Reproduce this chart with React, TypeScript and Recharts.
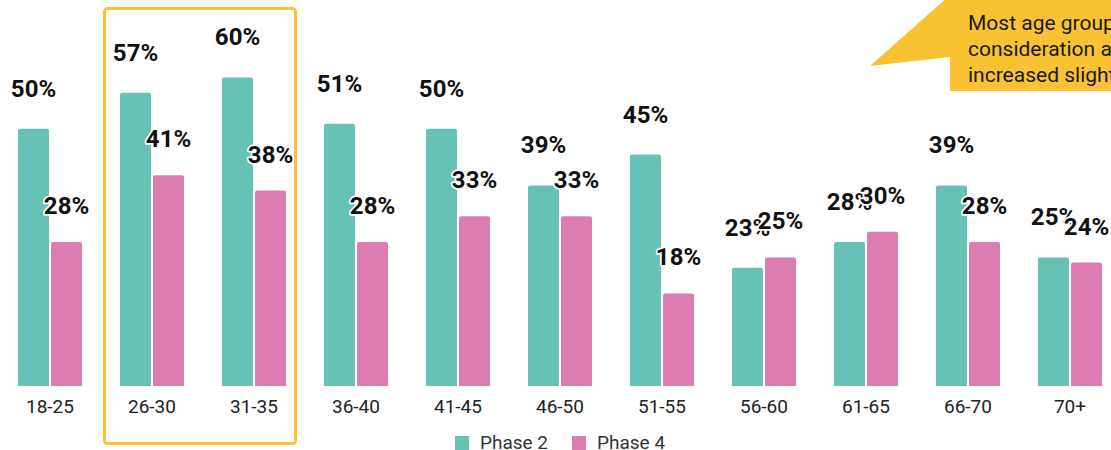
import React from "react";
import { BarChart, Bar, XAxis, YAxis, Legend, LabelList } from "recharts";

// Age groups on the category axis
const ageGroups = ["18-25", "26-30", "31-35", "36-40", "41-45", "46-50", "51-55", "56-60", "61-65", "66-70", "70+"];
// Share (%) per age group in each survey phase
const phase2 = [50, 57, 60, 51, 50, 39, 45, 23, 28, 39, 25];
const phase4 = [28, 41, 38, 28, 33, 33, 18, 25, 30, 28, 24];

const seriesNames = ["Phase 2", "Phase 4"];
const seriesColors = ["#66C2B5", "#DC7CB1"];

const calloutLines = ["Most age groups'", "consideration and", "increased slightly"];

const data = ageGroups.map((age, i) => ({ age, p2: phase2[i], p4: phase4[i] }));

const FONT = "Roboto, 'Noto Sans', Arial, sans-serif";

const makeValueLabel = (lift: number) => (props: any) => {
  const { x, y, width, value } = props;
  return (
    <text
      x={Number(x) + Number(width) / 2}
      y={Number(y) - lift}
      textAnchor="middle"
      fontFamily={FONT}
      fontSize={24}
      fontWeight={700}
      fill="#111"
      stroke="#fff"
      strokeWidth={3.5}
      strokeLinejoin="round"
      style={{ paintOrder: "stroke" }}
    >
      {`${value}%`}
    </text>
  );
};

const LegendContent = () => (
  <div
    style={{
      display: "flex",
      justifyContent: "center",
      alignItems: "center",
      height: 18,
      fontFamily: FONT,
      fontSize: 19,
      lineHeight: "16px",
      color: "#333",
      whiteSpace: "nowrap",
      transform: "translateY(2px)",
    }}
  >
    {seriesNames.map((name, i) => (
      <div key={name} style={{ display: "flex", alignItems: "center", marginLeft: i === 0 ? 0 : 24 }}>
        <span style={{ width: 14, height: 14, background: seriesColors[i], display: "inline-block", marginRight: 11 }} />
        <span>{name}</span>
      </div>
    ))}
  </div>
);

export default function App() {
  return (
    <div style={{ position: "fixed", left: 0, top: 0, width: 1111, height: 450, overflow: "hidden", background: "#fff" }}>
      <div style={{ position: "absolute", left: -1, top: 0 }}>
        <BarChart
          width={1122}
          height={450}
          data={data}
          margin={{ top: 26, right: 0, left: 0, bottom: 0 }}
          barSize={31}
          barGap={2}
        >
          <XAxis
            dataKey="age"
            axisLine={false}
            tickLine={false}
            height={46}
            tickMargin={8}
            tick={{ fontFamily: FONT, fontSize: 19, fill: "#222" }}
            interval={0}
          />
          <YAxis hide domain={[0, 70]} />
          <Legend verticalAlign="bottom" content={<LegendContent />} wrapperStyle={{ top: 432 }} />
          <Bar dataKey="p2" name={seriesNames[0]} fill={seriesColors[0]} radius={[2, 2, 0, 0]} isAnimationActive={false}>
            <LabelList dataKey="p2" content={makeValueLabel(32)} />
          </Bar>
          <Bar dataKey="p4" name={seriesNames[1]} fill={seriesColors[1]} radius={[2, 2, 0, 0]} isAnimationActive={false}>
            <LabelList dataKey="p4" content={makeValueLabel(28)} />
          </Bar>
        </BarChart>
      </div>
      <svg width={1111} height={450} style={{ position: "absolute", left: 0, top: 0, pointerEvents: "none" }}>
        <rect x={104.5} y={8.5} width={191} height={435} rx={3} fill="none" stroke="#F8C232" strokeWidth={3} />
        <polygon points="950,-5 870,66 950,57 950,91 1115,91 1115,-5" fill="#F8C232" />
        {calloutLines.map((line, i) => (
          <text key={line} x={968} y={30 + i * 26} fontFamily={FONT} fontSize={21} fill="#1a1a1a">
            {line}
          </text>
        ))}
      </svg>
    </div>
  );
}
